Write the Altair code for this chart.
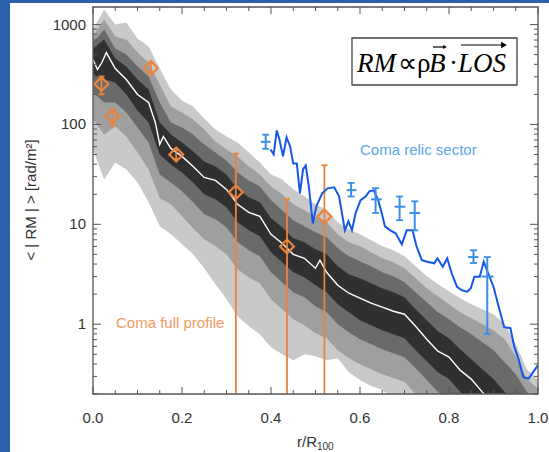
import altair as alt
import pandas as pd

# ---------------- data ----------------
# grey percentile bands of the simulated RM profile, values read in decades (log10 RM)
band_x = [0.000, 0.025, 0.050, 0.075, 0.100, 0.125, 0.150, 0.175, 0.200, 0.225,
          0.250, 0.275, 0.300, 0.325, 0.350, 0.375, 0.400, 0.425, 0.450, 0.475,
          0.500, 0.525, 0.550, 0.575, 0.600, 0.625, 0.650, 0.675, 0.700, 0.725,
          0.750, 0.775, 0.800, 0.825, 0.850, 0.875, 0.900, 0.925, 0.950, 0.975, 1.000]
light_hi_log10 = [2.95, 3.15, 3.00, 3.02, 2.86, 2.78, 2.56, 2.35, 2.24, 2.18,
                  2.06, 1.95, 1.88, 1.82, 1.72, 1.62, 1.50, 1.45, 1.35, 1.28,
                  1.20, 1.14, 1.02, 0.95, 0.90, 0.84, 0.78, 0.74, 0.68, 0.58,
                  0.48, 0.40, 0.33, 0.26, 0.20, 0.15, 0.10, 0.00, -0.20, -0.45, -0.56]
mid_hi_log10 = [2.88, 3.05, 2.88, 2.85, 2.72, 2.62, 2.40, 2.18, 2.12, 2.05,
                1.95, 1.83, 1.75, 1.68, 1.58, 1.50, 1.38, 1.30, 1.20, 1.14,
                1.07, 1.02, 0.90, 0.82, 0.78, 0.72, 0.66, 0.62, 0.56, 0.46,
                0.36, 0.28, 0.20, 0.12, 0.06, 0.00, -0.06, -0.15, -0.32, -0.55, -0.65]
dark_hi_log10 = [2.82, 2.95, 2.76, 2.70, 2.58, 2.48, 2.22, 2.02, 1.97, 1.90,
                 1.80, 1.72, 1.64, 1.52, 1.44, 1.38, 1.24, 1.14, 1.04, 0.98,
                 0.92, 0.87, 0.76, 0.68, 0.63, 0.58, 0.52, 0.48, 0.42, 0.32,
                 0.22, 0.12, 0.05, -0.03, -0.10, -0.18, -0.26, -0.38, -0.50, -0.68, -0.78]
core_hi_log10 = [2.76, 2.85, 2.66, 2.58, 2.45, 2.35, 2.02, 1.90, 1.82, 1.73,
                 1.63, 1.58, 1.50, 1.35, 1.27, 1.22, 1.06, 0.97, 0.86, 0.82,
                 0.75, 0.70, 0.58, 0.50, 0.46, 0.41, 0.36, 0.32, 0.27, 0.15,
                 0.04, -0.07, -0.14, -0.25, -0.35, -0.45, -0.55, -0.68, -0.78, -0.90, -1.00]
core_lo_log10 = [2.50, 2.45, 2.42, 2.30, 2.14, 2.02, 1.70, 1.60, 1.52, 1.42,
                 1.30, 1.25, 1.17, 1.02, 0.94, 0.88, 0.72, 0.62, 0.52, 0.47,
                 0.39, 0.32, 0.20, 0.12, 0.04, -0.01, -0.06, -0.10, -0.14, -0.26,
                 -0.37, -0.48, -0.55, -0.68, -0.78, -0.90, -1.00, -1.10, -1.20, -1.30, -1.40]
dark_lo_log10 = [2.32, 2.22, 2.22, 2.12, 1.97, 1.82, 1.50, 1.42, 1.33, 1.22,
                 1.10, 1.05, 0.97, 0.82, 0.74, 0.68, 0.52, 0.42, 0.32, 0.27,
                 0.18, 0.12, 0.00, -0.08, -0.15, -0.20, -0.25, -0.29, -0.33, -0.44,
                 -0.56, -0.68, -0.76, -0.88, -0.98, -1.10, -1.20, -1.30, -1.40, -1.50, -1.60]
mid_lo_log10 = [2.05, 1.90, 1.98, 1.88, 1.72, 1.55, 1.26, 1.20, 1.08, 0.96,
                0.85, 0.78, 0.70, 0.55, 0.47, 0.41, 0.25, 0.15, 0.05, -0.01,
                -0.09, -0.14, -0.26, -0.34, -0.40, -0.45, -0.50, -0.54, -0.58, -0.70,
                -0.82, -0.92, -1.00, -1.10, -1.20, -1.30, -1.40, -1.50, -1.60, -1.70, -1.80]
light_lo_log10 = [1.75, 1.45, 1.62, 1.55, 1.42, 1.22, 0.98, 0.90, 0.80, 0.70,
                  0.56, 0.40, 0.25, 0.08, -0.02, -0.10, -0.23, -0.30, -0.36, -0.30,
                  -0.32, -0.36, -0.34, -0.48, -0.56, -0.62, -0.66, -0.75, -0.82, -0.92,
                  -1.02, -1.12, -1.22, -1.32, -1.42, -1.50, -1.60, -1.70, -1.80, -1.90, -2.00]

# median of the simulations (white line)
median_x = [0.0, 0.01, 0.02, 0.03, 0.05, 0.075, 0.1, 0.125, 0.14, 0.15, 0.158, 0.175,
            0.2, 0.225, 0.25, 0.275, 0.3, 0.325, 0.35, 0.375, 0.4, 0.425, 0.45, 0.475,
            0.5, 0.51, 0.525, 0.55, 0.575, 0.6, 0.625, 0.65, 0.675, 0.7, 0.725, 0.75,
            0.775, 0.8, 0.825, 0.85, 0.875, 0.9]
median_log10 = [2.65, 2.55, 2.62, 2.72, 2.56, 2.45, 2.30, 2.22, 2.02, 1.80, 1.88, 1.76,
                1.68, 1.58, 1.47, 1.44, 1.35, 1.20, 1.12, 1.08, 0.90, 0.81, 0.70, 0.66,
                0.56, 0.64, 0.52, 0.39, 0.31, 0.26, 0.21, 0.17, 0.13, 0.10, -0.02, -0.15,
                -0.27, -0.33, -0.46, -0.55, -0.68, -0.80]

# Coma relic sector profile (blue line)
relic_x = [0.399, 0.406, 0.413, 0.419, 0.427, 0.435, 0.443, 0.450, 0.458, 0.465,
           0.472, 0.478, 0.485, 0.494, 0.502, 0.515, 0.527, 0.542, 0.553, 0.566,
           0.574, 0.582, 0.590, 0.601, 0.613, 0.621, 0.631, 0.641, 0.649, 0.656,
           0.668, 0.680, 0.694, 0.705, 0.718, 0.727, 0.739, 0.751, 0.767, 0.774,
           0.786, 0.796, 0.806, 0.818, 0.829, 0.841, 0.849, 0.857, 0.869, 0.878,
           0.888, 0.900, 0.912, 0.924, 0.938, 0.947, 0.957, 0.967, 0.979, 0.989, 1.0]
relic_log10 = [1.75, 1.70, 1.94, 1.85, 1.68, 1.87, 1.78, 1.61, 1.61, 1.31,
               1.55, 1.59, 1.38, 1.01, 1.18, 1.31, 1.36, 1.37, 1.28, 0.94,
               1.03, 0.94, 1.11, 1.24, 1.28, 1.33, 1.34, 1.24, 1.11, 0.98,
               0.94, 0.91, 0.80, 0.94, 0.94, 0.78, 0.64, 0.625, 0.61, 0.66,
               0.575, 0.66, 0.51, 0.375, 0.34, 0.325, 0.36, 0.475, 0.475, 0.625,
               0.51, 0.375, 0.17, -0.03, -0.04, -0.23, -0.36, -0.53, -0.545, -0.48, -0.41]

# Coma full profile (orange diamonds with error bars)
full_x = [0.019, 0.044, 0.130, 0.187, 0.321, 0.436, 0.520]
full_rm = [254, 120, 367, 50, 21, 6.0, 12]
full_lo = [200, 97, 330, 45, 0.01, 0.01, 0.01]
full_hi = [302, 141, 417, 56, 51, 18, 39]

# Coma relic sector measurements (blue crosses)
sect_x = [0.388, 0.580, 0.635, 0.689, 0.723, 0.855, 0.886]
sect_x_lo = [0.377, 0.570, 0.625, 0.678, 0.711, 0.843, 0.873]
sect_x_hi = [0.399, 0.592, 0.649, 0.702, 0.735, 0.866, 0.900]
sect_rm = [67, 22, 17.8, 15, 13, 4.7, 3.0]
sect_lo = [57, 19, 13, 11, 8.7, 4.1, 0.80]
sect_hi = [79, 26, 23, 19, 17, 5.5, 4.7]

# axis ticks and tick labels
x_major = [0.0, 0.2, 0.4, 0.6, 0.8, 1.0]
x_labels = ["0.0", "0.2", "0.4", "0.6", "0.8", "1.0"]
x_minor = [0.05, 0.1, 0.15, 0.25, 0.3, 0.35, 0.45, 0.5, 0.55, 0.65, 0.7, 0.75, 0.85, 0.9, 0.95]
y_major = [1, 10, 100, 1000]
y_labels = ["1", "10", "100", "1000"]
y_minor = [0.2, 0.3, 0.4, 0.5, 0.6, 0.7, 0.8, 0.9, 2, 3, 4, 5, 6, 7, 8, 9,
           20, 30, 40, 50, 60, 70, 80, 90, 200, 300, 400, 500, 600, 700, 800, 900]

# ---------------- chart ----------------
W, H = 445, 387
AX = "#555555"
ORANGE = "#e8843f"
BLUE_LINE = "#1656e8"
BLUE_PT = "#3d8ee8"
LABEL_FONT = "Liberation Sans"
TXT = "#333333"

xs = alt.Scale(domain=[0, 1], nice=False, zero=False)
ys = alt.Scale(type="log", domain=[0.2, 1500], nice=False)


def X(f):
    return alt.X(f, scale=xs, axis=None)


def Y(f):
    return alt.Y(f, scale=ys, axis=None)


def band(lo, hi):
    return pd.DataFrame({"x": band_x, "lo": [10 ** v for v in lo], "hi": [10 ** v for v in hi]})


one = pd.DataFrame({"a": [0]})

panel = alt.Chart(one).mark_rect(color="white").encode(
    x=alt.value(-83), x2=alt.value(W + 11), y=alt.value(-4), y2=alt.value(H + 58))


def band_layer(lo, hi, color):
    return alt.Chart(band(lo, hi)).mark_area(color=color, clip=True).encode(
        x=X("x:Q"), y=Y("hi:Q"), y2="lo:Q")


light = band_layer(light_lo_log10, light_hi_log10, "#c9c9c9")
mid = band_layer(mid_lo_log10, mid_hi_log10, "#9f9f9f")
dark = band_layer(dark_lo_log10, dark_hi_log10, "#6a6a6a")
core = band_layer(core_lo_log10, core_hi_log10, "#303030")

median = alt.Chart(pd.DataFrame({"x": median_x, "y": [10 ** v for v in median_log10]})).mark_line(
    color="white", strokeWidth=1.4, clip=True).encode(x=X("x:Q"), y=Y("y:Q"))

full_df = pd.DataFrame({"x": full_x, "y": full_rm, "lo": full_lo, "hi": full_hi})
full_err = alt.Chart(full_df).mark_rule(color=ORANGE, strokeWidth=1.8, clip=True).encode(
    x=X("x:Q"), y=Y("lo:Q"), y2="hi:Q")
full_cap_hi = alt.Chart(full_df).mark_point(shape="M-1,0L1,0", size=36, filled=False, color=ORANGE,
                                            strokeWidth=1.8, opacity=1, clip=True).encode(
    x=X("x:Q"), y=Y("hi:Q"))
full_cap_lo = alt.Chart(full_df).mark_point(shape="M-1,0L1,0", size=36, filled=False, color=ORANGE,
                                            strokeWidth=1.8, opacity=1, clip=True).encode(
    x=X("x:Q"), y=Y("lo:Q"))
full_pts = alt.Chart(full_df).mark_point(shape="diamond", size=190, filled=False, color=ORANGE,
                                         strokeWidth=2.2, opacity=1, clip=True).encode(
    x=X("x:Q"), y=Y("y:Q"))

relic = alt.Chart(pd.DataFrame({"x": relic_x, "y": [10 ** v for v in relic_log10]})).mark_line(
    color=BLUE_LINE, strokeWidth=2, clip=True).encode(x=X("x:Q"), y=Y("y:Q"))

sect_df = pd.DataFrame({"x": sect_x, "xlo": sect_x_lo, "xhi": sect_x_hi,
                        "y": sect_rm, "lo": sect_lo, "hi": sect_hi})
sect_h = alt.Chart(sect_df).mark_rule(color=BLUE_PT, strokeWidth=2, clip=True).encode(
    x=X("xlo:Q"), x2="xhi:Q", y=Y("y:Q"))
sect_v = alt.Chart(sect_df).mark_rule(color=BLUE_PT, strokeWidth=2, clip=True).encode(
    x=X("x:Q"), y=Y("lo:Q"), y2="hi:Q")
sect_cap_hi = alt.Chart(sect_df).mark_point(shape="M-1,0L1,0", size=49, filled=False, color=BLUE_PT,
                                            strokeWidth=1.8, opacity=1, clip=True).encode(
    x=X("x:Q"), y=Y("hi:Q"))
sect_cap_lo = alt.Chart(sect_df).mark_point(shape="M-1,0L1,0", size=49, filled=False, color=BLUE_PT,
                                            strokeWidth=1.8, opacity=1, clip=True).encode(
    x=X("x:Q"), y=Y("lo:Q"))

lbl_relic = alt.Chart(one).mark_text(text="Coma relic sector", align="left", baseline="middle",
                                     font=LABEL_FONT, fontSize=15, color="#5ea6ee").encode(
    x=alt.value(267), y=alt.value(143))
lbl_full = alt.Chart(one).mark_text(text="Coma full profile", align="left", baseline="middle",
                                    font=LABEL_FONT, fontSize=15, color="#ef9a62").encode(
    x=alt.value(23), y=alt.value(316))

# equation box
eq_box = alt.Chart(one).mark_rect(color="white", stroke="#444444", strokeWidth=1.3).encode(
    x=alt.value(259), x2=alt.value(424), y=alt.value(31), y2=alt.value(78))
EQF = "Liberation Serif"
eq_parts = []
for txt, xp, st in [("RM", 264, "italic"), ("\u221d", 305, "normal"), ("\u03c1", 324, "normal"),
                    ("B", 336, "italic"), ("\u00b7", 356, "normal"), ("LOS", 365, "italic")]:
    eq_parts.append(alt.Chart(one).mark_text(text=txt, align="left", baseline="alphabetic",
                                             font=EQF, fontSize=27, fontStyle=st, color="black").encode(
        x=alt.value(xp), y=alt.value(65)))
arrow_b = alt.Chart(one).mark_rule(color="black", strokeWidth=1.2).encode(
    x=alt.value(340), x2=alt.value(352), y=alt.value(40))
arrow_b_head = alt.Chart(one).mark_point(shape="triangle-right", size=18, filled=True, color="black",
                                         opacity=1).encode(x=alt.value(352), y=alt.value(40))
arrow_los = alt.Chart(one).mark_rule(color="black", strokeWidth=1.2).encode(
    x=alt.value(368), x2=alt.value(411), y=alt.value(38))
arrow_los_head = alt.Chart(one).mark_point(shape="triangle-right", size=45, filled=True, color="black",
                                           opacity=1).encode(x=alt.value(411), y=alt.value(38))

# tick labels
xlab = alt.Chart(pd.DataFrame({"v": x_major, "t": x_labels})).mark_text(
    align="center", baseline="middle", font=LABEL_FONT, fontSize=15, color=TXT).encode(
    x=X("v:Q"), y=alt.value(H + 24), text="t:N")
ylab = alt.Chart(pd.DataFrame({"v": y_major, "t": y_labels})).mark_text(
    align="right", baseline="middle", font=LABEL_FONT, fontSize=15, color=TXT).encode(
    y=Y("v:Q"), x=alt.value(-7), text="t:N")

# axis titles
ytitle = alt.Chart(one).mark_text(text="< | RM | > [rad/m\u00b2]", angle=270, align="center",
                                  baseline="middle", font=LABEL_FONT, fontSize=15, color=TXT).encode(
    x=alt.value(-62), y=alt.value(193))
xtitle_a = alt.Chart(one).mark_text(text="r/R", align="left", baseline="alphabetic", font=LABEL_FONT,
                                    fontSize=15, color=TXT).encode(x=alt.value(204), y=alt.value(440))
xtitle_b = alt.Chart(one).mark_text(text="100", align="left", baseline="alphabetic", font=LABEL_FONT,
                                    fontSize=10, color=TXT).encode(x=alt.value(224), y=alt.value(443))


# inward ticks on all four sides
def xticks(vals, length):
    d = pd.DataFrame({"v": vals})
    b = alt.Chart(d).mark_rule(color=AX, strokeWidth=1).encode(x=X("v:Q"), y=alt.value(H), y2=alt.value(H - length))
    t = alt.Chart(d).mark_rule(color=AX, strokeWidth=1).encode(x=X("v:Q"), y=alt.value(0), y2=alt.value(length))
    return [b, t]


def yticks(vals, length):
    d = pd.DataFrame({"v": vals})
    l = alt.Chart(d).mark_rule(color=AX, strokeWidth=1).encode(y=Y("v:Q"), x=alt.value(0), x2=alt.value(length))
    r = alt.Chart(d).mark_rule(color=AX, strokeWidth=1).encode(y=Y("v:Q"), x=alt.value(W), x2=alt.value(W - length))
    return [l, r]


frame = alt.Chart(one).mark_rect(fillOpacity=0, stroke=AX, strokeWidth=1.3).encode(
    x=alt.value(0), x2=alt.value(W), y=alt.value(0), y2=alt.value(H))

layers = [panel, light, mid, dark, core, median, full_err, full_cap_hi, full_cap_lo, full_pts,
          relic, sect_h, sect_v, sect_cap_hi, sect_cap_lo, lbl_relic, lbl_full, eq_box] + eq_parts + \
         [arrow_b, arrow_b_head, arrow_los, arrow_los_head, xlab, ylab, ytitle, xtitle_a, xtitle_b] + \
         xticks(x_major, 7) + xticks(x_minor, 4) + yticks(y_major, 8) + yticks(y_minor, 4) + [frame]

chart = alt.layer(*layers).properties(
    width=W, height=H,
    padding={"left": 93, "top": 7, "right": 11, "bottom": 58},
    autosize=alt.AutoSizeParams(type="none"),
    background="#2c5fae",
).configure_view(strokeWidth=0)

chart.save("out.html", embed_options={"renderer": "svg", "actions": False})
